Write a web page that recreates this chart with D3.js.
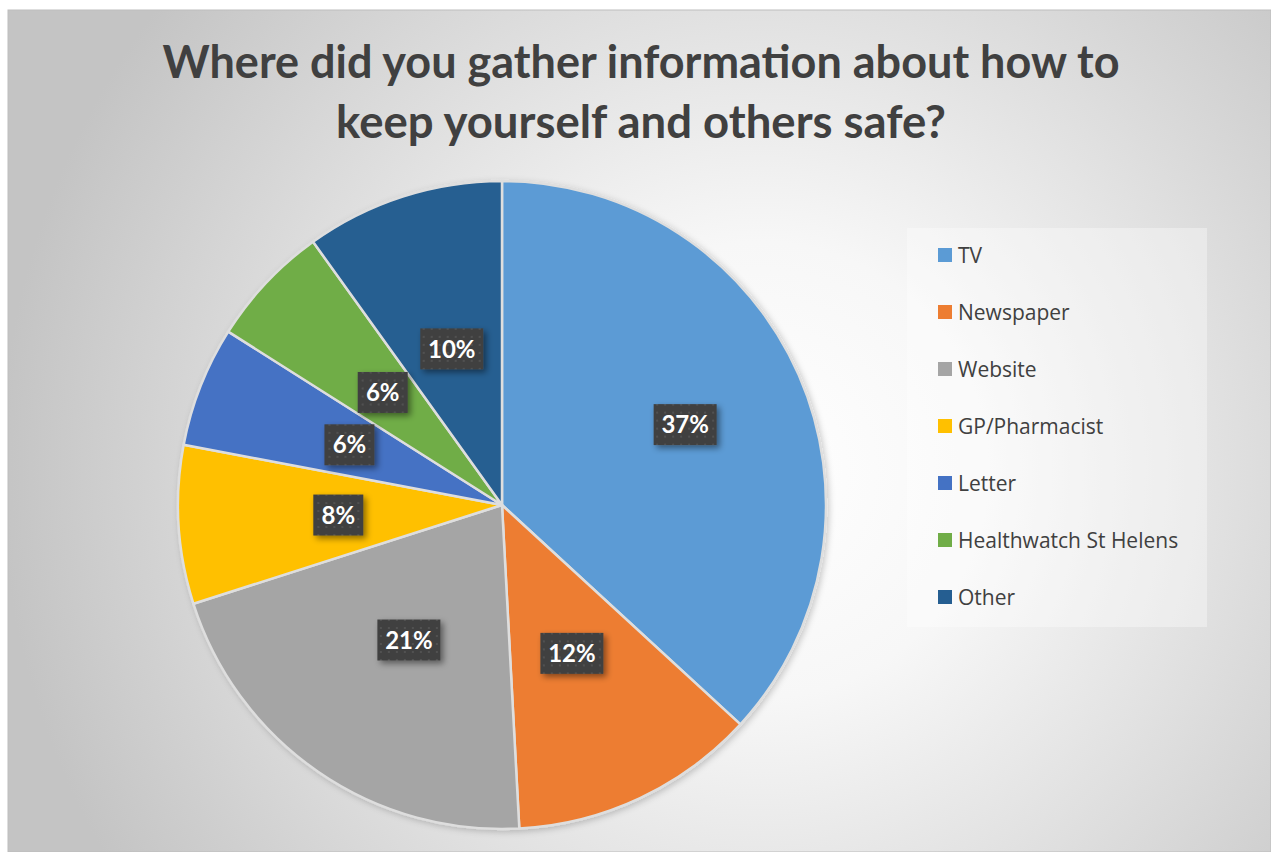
<!DOCTYPE html>
<html>
<head>
<meta charset="utf-8">
<script src="https://cdn.jsdelivr.net/npm/d3@7"></script>
<style>
  html, body { margin: 0; padding: 0; background: #ffffff; }
  svg { display: block; }
</style>
</head>
<body>
<svg id="chart" width="1271" height="852"></svg>
<script>
// ---- data ----
const categories = ["TV", "Newspaper", "Website", "GP/Pharmacist", "Letter", "Healthwatch St Helens", "Other"];
const values = [36.8, 12.3, 20.9, 7.9, 6.0, 6.1, 9.9];
const colors = ["#5B9BD5", "#ED7D31", "#A5A5A5", "#FFC000", "#4472C4", "#70AD47", "#255E91"];
const titleLines = ["Where did you gather information about how to", "keep yourself and others safe?"];

const W = 1271, H = 852;
const svg = d3.select("#chart");
const defs = svg.append("defs");

// background radial gradient
const bg = defs.append("radialGradient").attr("id", "bgGrad")
  .attr("gradientUnits", "userSpaceOnUse")
  .attr("cx", 760).attr("cy", 470).attr("r", 760);
bg.append("stop").attr("offset", "0%").attr("stop-color", "#ffffff");
bg.append("stop").attr("offset", "30%").attr("stop-color", "#f7f7f7");
bg.append("stop").attr("offset", "100%").attr("stop-color", "#c4c4c4");

// label dot pattern
const pat = defs.append("pattern").attr("id", "dots").attr("patternUnits", "userSpaceOnUse")
  .attr("width", 8).attr("height", 8);
pat.append("rect").attr("width", 8).attr("height", 8).attr("fill", "#404040");
pat.append("circle").attr("cx", 4).attr("cy", 4).attr("r", 1.1).attr("fill", "#555555");

// shadows
const sh = defs.append("filter").attr("id", "shadow").attr("x", "-30%").attr("y", "-30%").attr("width", "170%").attr("height", "170%");
sh.append("feDropShadow").attr("dx", 3).attr("dy", 3).attr("stdDeviation", 3).attr("flood-color", "#000").attr("flood-opacity", 0.45);
const psh = defs.append("filter").attr("id", "pieShadow").attr("x", "-10%").attr("y", "-10%").attr("width", "120%").attr("height", "120%");
psh.append("feDropShadow").attr("dx", 2).attr("dy", 2).attr("stdDeviation", 3).attr("flood-color", "#000").attr("flood-opacity", 0.2);

// chart area
svg.append("rect").attr("x", 8).attr("y", 10).attr("width", W - 8).attr("height", H - 10)
  .attr("fill", "url(#bgGrad)").attr("stroke", "#bdbdbd").attr("stroke-width", 1);

// title
const title = svg.append("g");
titleLines.forEach((t, i) => {
  title.append("text")
    .attr("x", 641).attr("y", 78 + i * 60)
    .attr("text-anchor", "middle")
    .attr("font-family", "Lato, 'Open Sans', sans-serif")
    .attr("font-weight", "bold")
    .attr("font-size", 45)
    .attr("fill", "#404040")
    .attr("textLength", i === 0 ? 957 : 610)
    .attr("lengthAdjust", "spacingAndGlyphs")
    .text(t);
});

// pie
const cx = 502, cy = 505, R = 324;
const pie = d3.pie().sort(null).value(d => d)(values);
const arc = d3.arc().innerRadius(0).outerRadius(R);
const g = svg.append("g").attr("transform", `translate(${cx},${cy})`);
g.append("g").attr("filter", "url(#pieShadow)")
  .selectAll("path").data(pie).join("path")
  .attr("d", arc)
  .attr("fill", (d, i) => colors[i])
  .attr("stroke", "#dedede")
  .attr("stroke-width", 2.5)
  .attr("stroke-linejoin", "round");

// labels
const total = d3.sum(values);
const fmt = v => Math.round(v / total * 100) + "%";
const lblG = g.append("g");
pie.forEach((d, i) => {
  const lr = i === 0 ? 200 : 164;
  const a = d3.arc().innerRadius(lr).outerRadius(lr);
  const [x, y] = a.centroid(d);
  const txt = fmt(d.value);
  const w = txt.length === 3 ? 63 : 50, h = 41;
  const lg = lblG.append("g").attr("transform", `translate(${x},${y})`);
  lg.append("rect").attr("x", -w / 2).attr("y", -h / 2).attr("width", w).attr("height", h)
    .attr("fill", "url(#dots)").attr("filter", "url(#shadow)");
  lg.append("text").attr("text-anchor", "middle").attr("dy", "0.36em")
    .attr("font-family", "Lato, 'Open Sans', sans-serif").attr("font-weight", "bold")
    .attr("font-size", 24).attr("fill", "#ffffff").text(txt);
});

// legend
const leg = svg.append("g");
leg.append("rect").attr("x", 907).attr("y", 228).attr("width", 300).attr("height", 399)
  .attr("fill", "#ffffff").attr("fill-opacity", 0.35);
const ly = d3.scalePoint().domain(categories).range([255, 597]);
categories.forEach((c, i) => {
  const row = leg.append("g").attr("transform", `translate(938,${ly(c)})`);
  row.append("rect").attr("x", 0).attr("y", -7).attr("width", 14).attr("height", 14).attr("fill", colors[i]);
  row.append("text").attr("x", 20).attr("dy", "0.36em")
    .attr("font-family", "'Open Sans', Lato, sans-serif").attr("font-size", 21)
    .attr("fill", "#404040").text(c);
});
</script>
</body>
</html>
